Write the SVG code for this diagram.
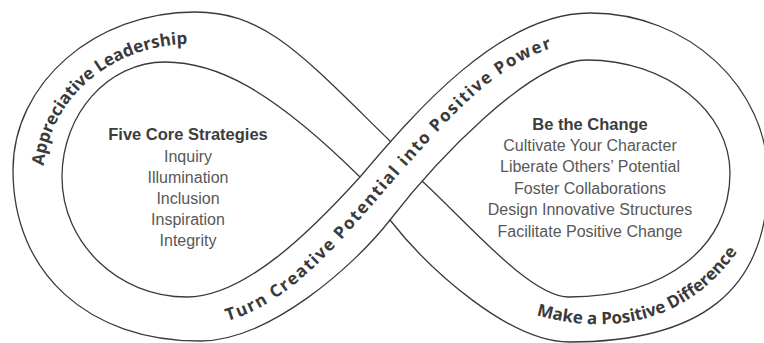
<svg xmlns="http://www.w3.org/2000/svg" width="764" height="343" viewBox="0 0 764 343">
  <style>
    .edge { fill: none; stroke: #3a3a3a; stroke-width: 1.3; stroke-linejoin: round; stroke-linecap: round; }
    .band { font-family: "Open Sans", "Noto Sans", "DejaVu Sans", sans-serif; font-weight: 700; font-size: 17px; fill: #3a3a3a; }
    .head { font-family: "Liberation Sans", Arial, sans-serif; font-weight: 700; font-size: 16.5px; fill: #3d3d3d; text-anchor: middle; }
    .item { font-family: "Liberation Sans", Arial, sans-serif; font-size: 16px; fill: #585858; text-anchor: middle; }
  </style>
  <defs>
    <path id="pathLeft" d="M 43,178 A 147,134 0 0 1 190,44 L 230,44"/>
    <path id="pathCross" d="M 190,326 C 280,326 340,240 409,163 C 470,95 520,41 600,41"/>
    <path id="pathRight" d="M 520,310 C 600,338 690,330 745,240"/>
  </defs>
  <rect width="764" height="343" fill="#ffffff"/>
  <g id="infinity-band">
    <path class="edge" d="M 360,177 C 270,88 215,62 165,62 C 108,62 62,114 62,177 C 62,243 118,297 187,297 C 245,297 312,230 360,177 C 415,112 500,13 590,13 C 688,13 768,87 768,178 C 768,293 698,342 569,342 C 510,342 430,271 390,220"/>
    <path class="edge" d="M 390,141 C 301,54 265,12 195,12 C 95,12 13,83 13,170 C 13,273 88,341 200,341 C 270,341 355,265 390,220 C 435,162 530,60 587,60 C 666,60 730,111 730,173 C 730,247 666,297 569,297 C 530,297 467,222 422,181"/>
  </g>
  <g id="band-labels">
    <text class="band"><textPath href="#pathLeft" startOffset="12">Appreciative Leadership</textPath></text>
    <text class="band" letter-spacing="1.5"><textPath href="#pathCross" startOffset="38">Turn Creative Potential into Positive Power</textPath></text>
    <text class="band"><textPath href="#pathRight" startOffset="17">Make a Positive Difference</textPath></text>
  </g>
  <g id="node-strategies">
    <text class="head" x="188" y="140">Five Core Strategies</text>
    <text class="item" x="188" y="162">Inquiry</text>
    <text class="item" x="188" y="183">Illumination</text>
    <text class="item" x="188" y="204">Inclusion</text>
    <text class="item" x="188" y="225">Inspiration</text>
    <text class="item" x="188" y="246">Integrity</text>
  </g>
  <g id="node-change">
    <text class="head" x="590" y="130">Be the Change</text>
    <text class="item" x="590" y="151">Cultivate Your Character</text>
    <text class="item" x="590" y="172">Liberate Others’ Potential</text>
    <text class="item" x="590" y="194">Foster Collaborations</text>
    <text class="item" x="590" y="215">Design Innovative Structures</text>
    <text class="item" x="590" y="237">Facilitate Positive Change</text>
  </g>
</svg>
